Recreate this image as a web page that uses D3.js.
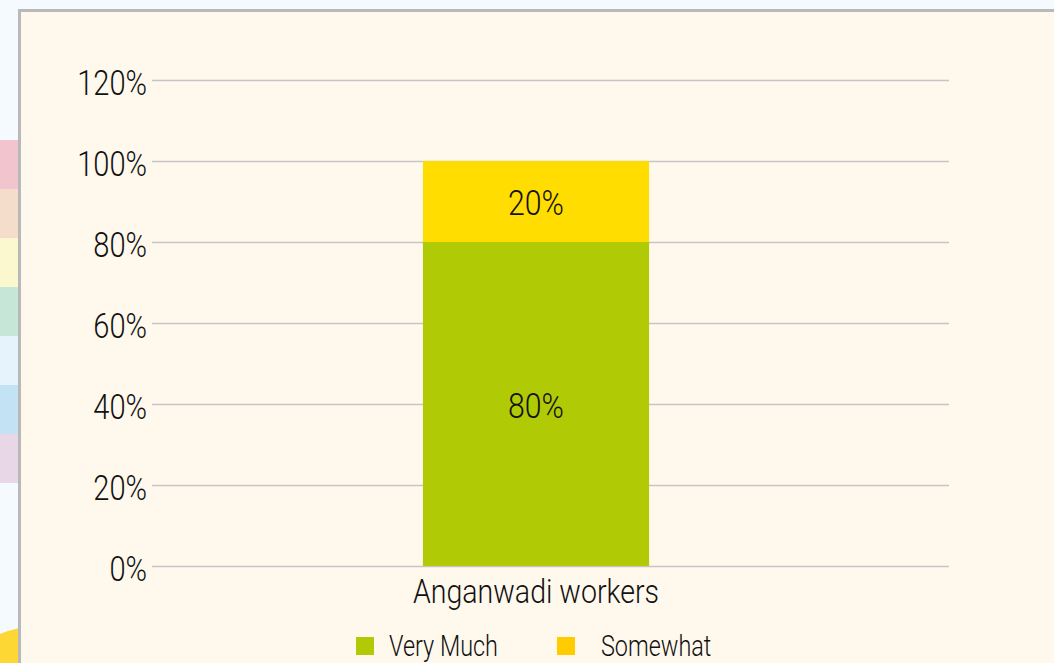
<!DOCTYPE html>
<html>
<head>
<meta charset="utf-8">
<script src="https://cdn.jsdelivr.net/npm/d3@7"></script>
<style>
  html, body { margin: 0; padding: 0; background: #f5faff; overflow: hidden; }
  svg { display: block; }
  text { font-family: Roboto, "DejaVu Sans Condensed", sans-serif; font-weight: 300; fill: #111; }
</style>
</head>
<body>
<script>
// chart data
const categories = ["Anganwadi workers"];
const seriesNames = ["Very Much", "Somewhat"];
const veryMuch = [80];
const somewhat = [20];
const yTicks = [0, 20, 40, 60, 80, 100, 120];
const barColors = ["#b1ca06", "#ffdd00"];
const legendColors = ["#b1ca06", "#ffcc00"];
// decorative side strip colours
const stripColors = ["#f2c4cd", "#f4ddcb", "#fbf7cf", "#c6e6d8", "#e6f3fd", "#c3e3f5", "#e8d7e7"];

const W = 1054, H = 663;
const margin = {top: 80, right: 105, bottom: 97, left: 152};

// squeeze text horizontally around its own anchor point (original font is condensed)
function squeeze(sel, k) {
    sel.each(function() {
        const t = d3.select(this);
        const tx = +t.attr("x") || 0, ty = +t.attr("y") || 0;
        t.attr("x", 0).attr("y", 0)
         .attr("transform", "translate(" + tx + "," + ty + ") scale(" + k + ",1)");
    });
}

const svg = d3.select("body").append("svg")
    .attr("width", W)
    .attr("height", H);

// side decoration
svg.selectAll("rect.strip")
    .data(stripColors)
  .enter().append("rect")
    .attr("class", "strip")
    .attr("x", 0)
    .attr("y", (d, i) => 140 + i * 49)
    .attr("width", 19)
    .attr("height", 49)
    .attr("fill", d => d);

svg.append("path")
    .attr("d", "M0,634 Q10,630 19,628 L19,663 L0,663 Z")
    .attr("fill", "#fdd835");

// panel
svg.append("rect")
    .attr("x", 19.5)
    .attr("y", 10.5)
    .attr("width", W)
    .attr("height", H)
    .attr("fill", "#fff8ed")
    .attr("stroke", "#b9b9b9")
    .attr("stroke-width", 3);

const g = svg.append("g")
    .attr("transform", "translate(" + margin.left + "," + margin.top + ")");

const width = W - margin.left - margin.right;   // 797
const height = H - margin.top - margin.bottom;  // 486

const x = d3.scaleBand()
    .domain(categories)
    .range([0, 768])
    .padding(0.545);

const y = d3.scaleLinear()
    .domain([0, 120])
    .range([height, 0]);

// gridlines + labels
const yAxis = d3.axisLeft(y)
    .tickValues(yTicks)
    .tickSize(-width)
    .tickPadding(5)
    .tickFormat(d => d + "%");

g.append("g")
    .attr("class", "y axis")
    .call(yAxis)
    .call(s => s.select(".domain").remove())
    .call(s => s.selectAll("line").attr("stroke", "#c6c4c4").attr("stroke-width", 1.3))
    .call(s => s.selectAll("text")
        .style("font-size", "35px")
        .attr("fill", "#111")
        .attr("x", -5)
        .attr("dy", "0.42em")
        .call(squeeze, 0.83));

// stacked data
const rows = categories.map((c, i) => ({cat: c, "Very Much": veryMuch[i], "Somewhat": somewhat[i]}));
const stack = d3.stack().keys(seriesNames)(rows);

const layers = g.selectAll("g.layer")
    .data(stack)
  .enter().append("g")
    .attr("class", "layer")
    .attr("fill", (d, i) => barColors[i]);

layers.selectAll("rect")
    .data(d => d)
  .enter().append("rect")
    .attr("x", d => x(d.data.cat))
    .attr("y", d => y(d[1]))
    .attr("width", x.bandwidth())
    .attr("height", d => y(d[0]) - y(d[1]));

layers.selectAll("text")
    .data(d => d)
  .enter().append("text")
    .attr("x", d => x(d.data.cat) + x.bandwidth() / 2)
    .attr("y", d => (y(d[0]) + y(d[1])) / 2)
    .attr("dy", "0.38em")
    .attr("text-anchor", "middle")
    .attr("fill", "#111")
    .style("font-size", "36px")
    .text(d => (d[1] - d[0]) + "%")
    .call(squeeze, 0.84);

// category axis
g.append("g")
    .attr("transform", "translate(0," + height + ")")
    .call(d3.axisBottom(x).tickSize(0).tickPadding(13))
    .call(s => s.select(".domain").remove())
    .call(s => s.selectAll("text")
        .style("font-size", "34px")
        .attr("fill", "#111")
        .attr("dy", "0.71em")
        .call(squeeze, 0.84));

// legend
const legendX = [356, 557];
const legend = svg.selectAll("g.legend")
    .data(seriesNames)
  .enter().append("g")
    .attr("class", "legend")
    .attr("transform", (d, i) => "translate(" + legendX[i] + ",637)");

legend.append("rect")
    .attr("width", 18)
    .attr("height", 18)
    .attr("fill", (d, i) => legendColors[i]);

legend.append("text")
    .attr("x", (d, i) => i === 0 ? 33 : 44)
    .attr("y", 8)
    .attr("dy", "0.38em")
    .style("font-size", "30px")
    .text(d => d)
    .call(squeeze, 0.78);
</script>
</body>
</html>
